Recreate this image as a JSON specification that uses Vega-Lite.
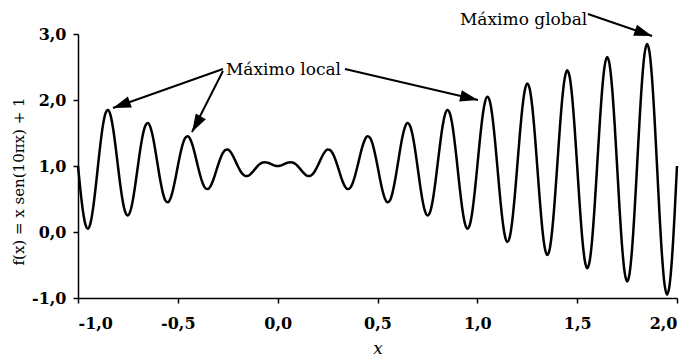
{
  "$schema": "https://vega.github.io/schema/vega-lite/v6.json",
  "width": 599,
  "height": 264,
  "autosize": {"type": "none"},
  "padding": {"left": 78, "top": 34, "right": 14, "bottom": 60},
  "background": "white",
  "config": {
    "view": {"stroke": null},
    "font": "DejaVu Serif",
    "axis": {
      "grid": false,
      "domainColor": "black",
      "domainWidth": 1.5,
      "tickColor": "black",
      "tickWidth": 1.5,
      "tickSize": 5,
      "labelFont": "DejaVu Serif",
      "labelFontSize": 16,
      "labelFontWeight": "bold",
      "labelColor": "black",
      "titleFont": "DejaVu Serif",
      "titleColor": "black",
      "titleFontWeight": "normal"
    }
  },
  "layer": [
    {
      "data": {"values": [
        {"x":-1,"y":1},{"x":-0.9875,"y":0.622},{"x":-0.975,"y":0.311},{"x":-0.9625,"y":0.111},{"x":-0.95,"y":0.05},{"x":-0.9375,"y":0.134},{"x":-0.925,"y":0.346},{"x":-0.9125,"y":0.651},
        {"x":-0.9,"y":1},{"x":-0.8875,"y":1.34},{"x":-0.875,"y":1.619},{"x":-0.8625,"y":1.797},{"x":-0.85,"y":1.85},{"x":-0.8375,"y":1.774},{"x":-0.825,"y":1.583},{"x":-0.8125,"y":1.311},
        {"x":-0.8,"y":1},{"x":-0.7875,"y":0.699},{"x":-0.775,"y":0.452},{"x":-0.7625,"y":0.296},{"x":-0.75,"y":0.25},{"x":-0.7375,"y":0.319},{"x":-0.725,"y":0.487},{"x":-0.7125,"y":0.727},
        {"x":-0.7,"y":1},{"x":-0.6875,"y":1.263},{"x":-0.675,"y":1.477},{"x":-0.6625,"y":1.612},{"x":-0.65,"y":1.65},{"x":-0.6375,"y":1.589},{"x":-0.625,"y":1.442},{"x":-0.6125,"y":1.234},
        {"x":-0.6,"y":1},{"x":-0.5875,"y":0.775},{"x":-0.575,"y":0.593},{"x":-0.5625,"y":0.48},{"x":-0.55,"y":0.45},{"x":-0.5375,"y":0.503},{"x":-0.525,"y":0.629},{"x":-0.5125,"y":0.804},
        {"x":-0.5,"y":1},{"x":-0.4875,"y":1.187},{"x":-0.475,"y":1.336},{"x":-0.4625,"y":1.427},{"x":-0.45,"y":1.45},{"x":-0.4375,"y":1.404},{"x":-0.425,"y":1.301},{"x":-0.4125,"y":1.158},
        {"x":-0.4,"y":1},{"x":-0.3875,"y":0.852},{"x":-0.375,"y":0.735},{"x":-0.3625,"y":0.665},{"x":-0.35,"y":0.65},{"x":-0.3375,"y":0.688},{"x":-0.325,"y":0.77},{"x":-0.3125,"y":0.88},
        {"x":-0.3,"y":1},{"x":-0.2875,"y":1.11},{"x":-0.275,"y":1.194},{"x":-0.2625,"y":1.243},{"x":-0.25,"y":1.25},{"x":-0.2375,"y":1.219},{"x":-0.225,"y":1.159},{"x":-0.2125,"y":1.081},
        {"x":-0.2,"y":1},{"x":-0.1875,"y":0.928},{"x":-0.175,"y":0.876},{"x":-0.1625,"y":0.85},{"x":-0.15,"y":0.85},{"x":-0.1375,"y":0.873},{"x":-0.125,"y":0.912},{"x":-0.1125,"y":0.957},
        {"x":-0.1,"y":1},{"x":-0.0875,"y":1.033},{"x":-0.075,"y":1.053},{"x":-0.0625,"y":1.058},{"x":-0.05,"y":1.05},{"x":-0.0375,"y":1.035},{"x":-0.025,"y":1.018},{"x":-0.0125,"y":1.005},
        {"x":0,"y":1},{"x":0.0125,"y":1.005},{"x":0.025,"y":1.018},{"x":0.0375,"y":1.035},{"x":0.05,"y":1.05},{"x":0.0625,"y":1.058},{"x":0.075,"y":1.053},{"x":0.0875,"y":1.033},
        {"x":0.1,"y":1},{"x":0.1125,"y":0.957},{"x":0.125,"y":0.912},{"x":0.1375,"y":0.873},{"x":0.15,"y":0.85},{"x":0.1625,"y":0.85},{"x":0.175,"y":0.876},{"x":0.1875,"y":0.928},
        {"x":0.2,"y":1},{"x":0.2125,"y":1.081},{"x":0.225,"y":1.159},{"x":0.2375,"y":1.219},{"x":0.25,"y":1.25},{"x":0.2625,"y":1.243},{"x":0.275,"y":1.194},{"x":0.2875,"y":1.11},
        {"x":0.3,"y":1},{"x":0.3125,"y":0.88},{"x":0.325,"y":0.77},{"x":0.3375,"y":0.688},{"x":0.35,"y":0.65},{"x":0.3625,"y":0.665},{"x":0.375,"y":0.735},{"x":0.3875,"y":0.852},
        {"x":0.4,"y":1},{"x":0.4125,"y":1.158},{"x":0.425,"y":1.301},{"x":0.4375,"y":1.404},{"x":0.45,"y":1.45},{"x":0.4625,"y":1.427},{"x":0.475,"y":1.336},{"x":0.4875,"y":1.187},
        {"x":0.5,"y":1},{"x":0.5125,"y":0.804},{"x":0.525,"y":0.629},{"x":0.5375,"y":0.503},{"x":0.55,"y":0.45},{"x":0.5625,"y":0.48},{"x":0.575,"y":0.593},{"x":0.5875,"y":0.775},
        {"x":0.6,"y":1},{"x":0.6125,"y":1.234},{"x":0.625,"y":1.442},{"x":0.6375,"y":1.589},{"x":0.65,"y":1.65},{"x":0.6625,"y":1.612},{"x":0.675,"y":1.477},{"x":0.6875,"y":1.263},
        {"x":0.7,"y":1},{"x":0.7125,"y":0.727},{"x":0.725,"y":0.487},{"x":0.7375,"y":0.319},{"x":0.75,"y":0.25},{"x":0.7625,"y":0.296},{"x":0.775,"y":0.452},{"x":0.7875,"y":0.699},
        {"x":0.8,"y":1},{"x":0.8125,"y":1.311},{"x":0.825,"y":1.583},{"x":0.8375,"y":1.774},{"x":0.85,"y":1.85},{"x":0.8625,"y":1.797},{"x":0.875,"y":1.619},{"x":0.8875,"y":1.34},
        {"x":0.9,"y":1},{"x":0.9125,"y":0.651},{"x":0.925,"y":0.346},{"x":0.9375,"y":0.134},{"x":0.95,"y":0.05},{"x":0.9625,"y":0.111},{"x":0.975,"y":0.311},{"x":0.9875,"y":0.622},
        {"x":1,"y":1},{"x":1.0125,"y":1.387},{"x":1.025,"y":1.725},{"x":1.0375,"y":1.959},{"x":1.05,"y":2.05},{"x":1.0625,"y":1.982},{"x":1.075,"y":1.76},{"x":1.0875,"y":1.416},
        {"x":1.1,"y":1},{"x":1.1125,"y":0.574},{"x":1.125,"y":0.205},{"x":1.1375,"y":-0.051},{"x":1.15,"y":-0.15},{"x":1.1625,"y":-0.074},{"x":1.175,"y":0.169},{"x":1.1875,"y":0.546},
        {"x":1.2,"y":1},{"x":1.2125,"y":1.464},{"x":1.225,"y":1.866},{"x":1.2375,"y":2.143},{"x":1.25,"y":2.25},{"x":1.2625,"y":2.166},{"x":1.275,"y":1.902},{"x":1.2875,"y":1.493},
        {"x":1.3,"y":1},{"x":1.3125,"y":0.498},{"x":1.325,"y":0.063},{"x":1.3375,"y":-0.236},{"x":1.35,"y":-0.35},{"x":1.3625,"y":-0.259},{"x":1.375,"y":0.028},{"x":1.3875,"y":0.469},
        {"x":1.4,"y":1},{"x":1.4125,"y":1.541},{"x":1.425,"y":2.008},{"x":1.4375,"y":2.328},{"x":1.45,"y":2.45},{"x":1.4625,"y":2.351},{"x":1.475,"y":2.043},{"x":1.4875,"y":1.569},
        {"x":1.5,"y":1},{"x":1.5125,"y":0.421},{"x":1.525,"y":-0.078},{"x":1.5375,"y":-0.42},{"x":1.55,"y":-0.55},{"x":1.5625,"y":-0.444},{"x":1.575,"y":-0.114},{"x":1.5875,"y":0.392},
        {"x":1.6,"y":1},{"x":1.6125,"y":1.617},{"x":1.625,"y":2.149},{"x":1.6375,"y":2.513},{"x":1.65,"y":2.65},{"x":1.6625,"y":2.536},{"x":1.675,"y":2.184},{"x":1.6875,"y":1.646},
        {"x":1.7,"y":1},{"x":1.7125,"y":0.345},{"x":1.725,"y":-0.22},{"x":1.7375,"y":-0.605},{"x":1.75,"y":-0.75},{"x":1.7625,"y":-0.628},{"x":1.775,"y":-0.255},{"x":1.7875,"y":0.316},
        {"x":1.8,"y":1},{"x":1.8125,"y":1.694},{"x":1.825,"y":2.29},{"x":1.8375,"y":2.698},{"x":1.85,"y":2.85},{"x":1.8625,"y":2.721},{"x":1.875,"y":2.326},{"x":1.8875,"y":1.722},
        {"x":1.9,"y":1},{"x":1.9125,"y":0.268},{"x":1.925,"y":-0.361},{"x":1.9375,"y":-0.79},{"x":1.95,"y":-0.95},{"x":1.9625,"y":-0.813},{"x":1.975,"y":-0.397},{"x":1.9875,"y":0.239},
        {"x":2,"y":1}
      ]},
      "mark": {"type": "line", "color": "black", "strokeWidth": 2.5, "interpolate": "monotone"},
      "encoding": {
        "x": {
          "field": "x", "type": "quantitative",
          "scale": {"domain": [-1, 2], "nice": false, "zero": false},
          "axis": {
            "values": [-1, -0.5, 0, 0.5, 1, 1.5, 2],
            "labelExpr": "replace(replace(format(datum.value, '.1f'), '.', ','), '\u2212', '-')",
            "labelPadding": 12,
            "title": "x",
            "titleFontSize": 17,
            "titleFontStyle": "italic",
            "titlePadding": 9
          }
        },
        "y": {
          "field": "y", "type": "quantitative",
          "scale": {"domain": [-1, 3], "nice": false, "zero": false},
          "axis": {
            "values": [-1, 0, 1, 2, 3],
            "labelExpr": "replace(replace(format(datum.value, '.1f'), '.', ','), '\u2212', '-')",
            "labelPadding": 7,
            "title": "f(x) = x sen(10πx) + 1",
            "titleFontSize": 15,
            "titleFontStyle": "normal",
            "titlePadding": 5,
            "titleY": 147
          }
        }
      }
    },
    {
      "data": {"values": [
        {"x": -0.274, "y": 2.47, "x2": -0.825, "y2": 1.879},
        {"x": -0.274, "y": 2.44, "x2": -0.429, "y2": 1.515},
        {"x": 0.337, "y": 2.47, "x2": 1.003, "y2": 2.0},
        {"x": 1.554, "y": 3.303, "x2": 1.875, "y2": 2.97}
      ]},
      "mark": {"type": "rule", "color": "black", "strokeWidth": 2},
      "encoding": {
        "x": {"field": "x", "type": "quantitative"},
        "y": {"field": "y", "type": "quantitative"},
        "x2": {"field": "x2"},
        "y2": {"field": "y2"}
      }
    },
    {
      "data": {"values": [
        {"x": -0.825, "y": 1.879, "angle": 250.7},
        {"x": -0.429, "y": 1.515, "angle": 209.4},
        {"x": 1.003, "y": 2.0, "angle": 103.3},
        {"x": 1.875, "y": 2.97, "angle": 108.7}
      ]},
      "mark": {"type": "point", "filled": true, "color": "black", "opacity": 1, "size": 320, "shape": "M0,0L0.65,2L-0.65,2Z"},
      "encoding": {
        "x": {"field": "x", "type": "quantitative"},
        "y": {"field": "y", "type": "quantitative"},
        "angle": {"field": "angle", "type": "quantitative", "scale": null}
      }
    },
    {
      "data": {"values": [
        {"x": -0.259, "y": 2.455, "label": "Máximo local"},
        {"x": 0.913, "y": 3.212, "label": "Máximo global"}
      ]},
      "mark": {"type": "text", "align": "left", "baseline": "middle", "font": "DejaVu Serif", "fontSize": 17, "color": "black"},
      "encoding": {
        "x": {"field": "x", "type": "quantitative"},
        "y": {"field": "y", "type": "quantitative"},
        "text": {"field": "label"}
      }
    }
  ]
}
